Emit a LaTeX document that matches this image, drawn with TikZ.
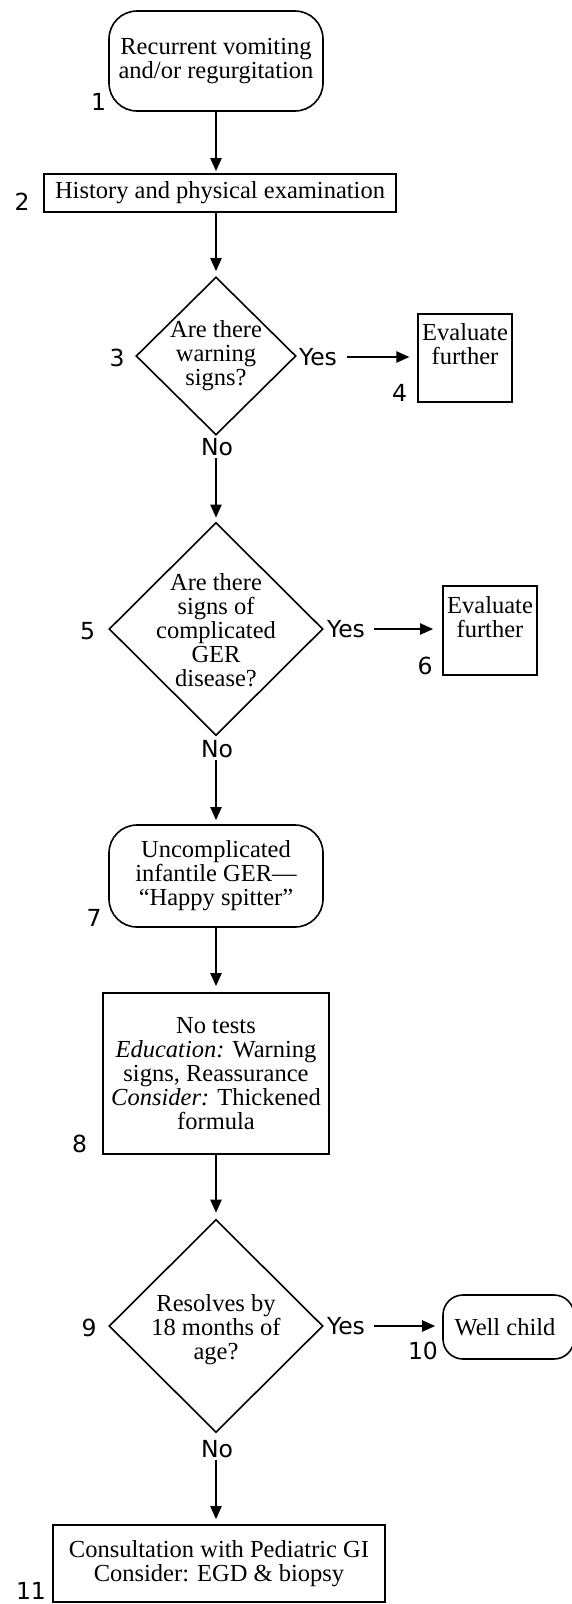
\documentclass[tikz,border=0pt]{standalone}
\usepackage{fontspec}
\setmainfont{Liberation Serif}
\newfontfamily\lblfont{DejaVu Sans}
\usetikzlibrary{shapes.geometric,arrows.meta}
\begin{document}
\begin{tikzpicture}[x=1pt,y=-1pt,
  box/.style={draw, line width=1.6pt, rectangle, align=center, font=\fontsize{24.5}{24}\selectfont, inner sep=0pt},
  rbox/.style={box, rounded corners=28pt},
  dia/.style={draw, diamond, line width=1.6pt, inner sep=0pt},
  dtext/.style={align=center, font=\fontsize{24.5}{24}\selectfont, inner sep=0pt},
  num/.style={font=\lblfont\fontsize{23.5}{23.5}\selectfont, inner sep=0pt},
  arr/.style={line width=2pt, -{Triangle[length=13pt,width=11pt]}},
]
\useasboundingbox (0,0) rectangle (572,1604);

% nodes
\node[rbox, minimum width=214pt, minimum height=100pt] (n1) at (216,61) {Recurrent vomiting\\and/or regurgitation};
\node[box, minimum width=352pt, minimum height=38pt] (n2) at (220,193) {History and physical examination};
\node[dia, minimum width=160pt, minimum height=158pt] (d3) at (216,356) {};
\node[dtext] (d3t) at (216,356) {Are there\\warning\\signs?};
\node[box, minimum width=93.5pt, minimum height=88pt] (b4) at (465,358) {Evaluate\\further\\[4pt]};
\node[dia, minimum width=214pt, minimum height=213pt] (d5) at (216,629) {};
\node[dtext] (d5t) at (216,630) {Are there\\signs of\\complicated\\GER\\disease?};
\node[box, minimum width=94pt, minimum height=89pt] (b6) at (490,630.5) {Evaluate\\further\\[4pt]};
\node[rbox, minimum width=214pt, minimum height=102pt] (n7) at (216,876) {Uncomplicated\\infantile GER—\\“Happy spitter”};
\node[box, minimum width=226.5pt, minimum height=161pt] (b8) at (216,1073.5) {No tests\\\textit{Education:} Warning\\signs, Reassurance\\\textit{Consider:} Thickened\\formula};
\node[dia, minimum width=214pt, minimum height=213pt] (d9) at (216,1326) {};
\node[dtext] (d9t) at (216,1330) {Resolves by\\18 months of\\age?};
\node[box, rounded corners=20pt, minimum width=131pt, minimum height=64pt] (n10) at (508.5,1327) {Well child\hspace{7pt}};
\node[box, minimum width=332pt, minimum height=77pt] (b11) at (219,1563.5) {Consultation with Pediatric GI\\Consider: EGD \& biopsy};

% number labels
\node[num] (l1) at (98.5,102) {1};
\node[num] (l2) at (22,202) {2};
\node[num] (l3) at (117,358) {3};
\node[num] (l4) at (399.5,393) {4};
\node[num] (l5) at (87.5,631) {5};
\node[num] (l6) at (425,666) {6};
\node[num] (l7) at (94,918) {7};
\node[num] (l8) at (79.5,1144) {8};
\node[num] (l9) at (89,1328) {9};
\node[num] (l10) at (423,1351) {10};
\node[num] (l11) at (31,1591) {11};

% yes / no labels
\node[num] (yes3) at (318,357) {Yes};
\node[num] (no3) at (217,447) {No};
\node[num] (yes5) at (346,629) {Yes};
\node[num] (no5) at (217,749) {No};
\node[num] (yes9) at (346,1326) {Yes};
\node[num] (no9) at (217,1449) {No};

% connectors
\draw[arr, shorten >=2pt] (n1.south) -- (n1.south |- n2.north);
\draw[arr, shorten >=5pt] (n2.south -| n1.south) -- (d3.north);
\draw[arr, shorten <=2pt, shorten >=4pt] (no3.south -| d3.south) -- (d5.north);
\draw[arr, shorten <=10pt, shorten >=8pt] (yes3.east) -- (yes3.east -| b4.west);
\draw[arr, shorten <=2pt, shorten >=4pt] (no5.south -| d5.south) -- (n7.north);
\draw[arr, shorten <=9pt, shorten >=9pt] (yes5.east) -- (yes5.east -| b6.west);
\draw[arr, shorten >=6pt] (n7.south) -- (b8.north);
\draw[arr, shorten >=6pt] (b8.south) -- (d9.north);
\draw[arr, shorten <=9pt, shorten >=7pt] (yes9.east) -- (yes9.east -| n10.west);
\draw[arr, shorten <=2pt, shorten >=5pt] (no9.south -| d9.south) -- (d9.south |- b11.north);
\end{tikzpicture}
\end{document}
